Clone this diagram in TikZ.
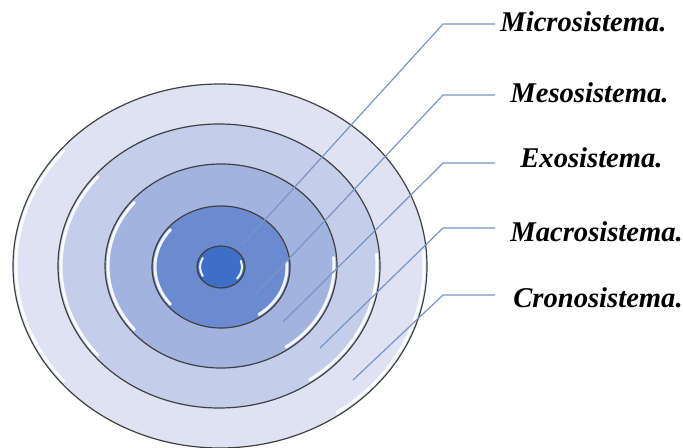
\documentclass[tikz,border=0pt]{standalone}
\usepackage{fontspec}
\setmainfont{Liberation Serif}

\definecolor{ringA}{RGB}{222,226,242}
\definecolor{ringB}{RGB}{196,205,233}
\definecolor{ringC}{RGB}{163,179,223}
\definecolor{ringD}{RGB}{108,138,208}
\definecolor{coreE}{RGB}{62,110,198}
\definecolor{leadcol}{RGB}{120,148,200}

\begin{document}
\begin{tikzpicture}[
          x=0.5pt, y=-0.5pt,
          ring/.style={draw=black!75, line width=0.6pt},
          shine/.style={draw=white, line width=1.5pt, opacity=0.9, line cap=round},
          leader/.style={draw=leadcol, line width=0.6pt},
          every node/.style={font=\fontsize{14.3}{17}\selectfont\bfseries\itshape, inner sep=0pt}
        ]
        \useasboundingbox (0,0) rectangle (683,448);

        % the rings, from the outside in
        \draw[ring, fill=ringA] (220,266) ellipse [x radius=207, y radius=182];
        \draw[ring, fill=ringB] (219,266) ellipse [x radius=161, y radius=142];
        \draw[ring, fill=ringC] (221,266) ellipse [x radius=116, y radius=102];
        \draw[ring, fill=ringD] (221,267) ellipse [x radius=69, y radius=61];
        \draw[ring, fill=coreE] (221,267) ellipse [x radius=24, y radius=21];

        % glossy edges
        \draw[shine] (220,266) ++(140:204 and 179) arc [start angle=140, end angle=220, x radius=204, y radius=179];
        \draw[shine] (220,266) ++(-5:204 and 179) arc [start angle=-5, end angle=55, x radius=204, y radius=179];
        \draw[shine] (219,266) ++(140:158 and 139) arc [start angle=140, end angle=220, x radius=158, y radius=139];
        \draw[shine] (219,266) ++(-5:158 and 139) arc [start angle=-5, end angle=55, x radius=158, y radius=139];
        \draw[shine] (221,266) ++(140:113 and 99) arc [start angle=140, end angle=220, x radius=113, y radius=99];
        \draw[shine] (221,266) ++(-5:113 and 99) arc [start angle=-5, end angle=55, x radius=113, y radius=99];
        \draw[shine] (221,267) ++(140:66 and 58) arc [start angle=140, end angle=220, x radius=66, y radius=58];
        \draw[shine] (221,267) ++(-5:66 and 58) arc [start angle=-5, end angle=55, x radius=66, y radius=58];
        \draw[shine, line width=1pt] (221,267) ++(150:21 and 18) arc [start angle=150, end angle=210, x radius=21, y radius=18];
        \draw[shine, line width=1pt] (221,267) ++(-20:21 and 18) arc [start angle=-20, end angle=40, x radius=21, y radius=18];

        % labels
        \node[anchor=base west] (micro) at (500,32) {Microsistema.};
        \node[anchor=base west] (meso) at (510,103) {Mesosistema.};
        \node[anchor=base west] (exo) at (520,168) {Exosistema.};
        \node[anchor=base west] (macro) at (510,242) {Macrosistema.};
        \node[anchor=base west] (crono) at (513,307) {Cronosistema.};

        \coordinate (tips) at (495,0);
        \coordinate (micro-knee) at (443,24);
        \coordinate (meso-knee) at (443,95);
        \coordinate (exo-knee) at (443,163);
        \coordinate (macro-knee) at (443,228);
        \coordinate (crono-knee) at (443,295);

        \coordinate (micro-end) at (242,245);
        \coordinate (meso-end) at (255,295);
        \coordinate (exo-end) at (283,322);
        \coordinate (macro-end) at (320,348);
        \coordinate (crono-end) at (353,380);

        % leaders
        \draw[leader] (micro-end) -- (micro-knee) -- (micro-knee -| tips);
        \draw[leader] (meso-end) -- (meso-knee) -- (meso-knee -| tips);
        \draw[leader] (exo-end) -- (exo-knee) -- (exo-knee -| tips);
        \draw[leader] (macro-end) -- (macro-knee) -- (macro-knee -| tips);
        \draw[leader] (crono-end) -- (crono-knee) -- (crono-knee -| tips);

        \end{tikzpicture}
\end{document}
